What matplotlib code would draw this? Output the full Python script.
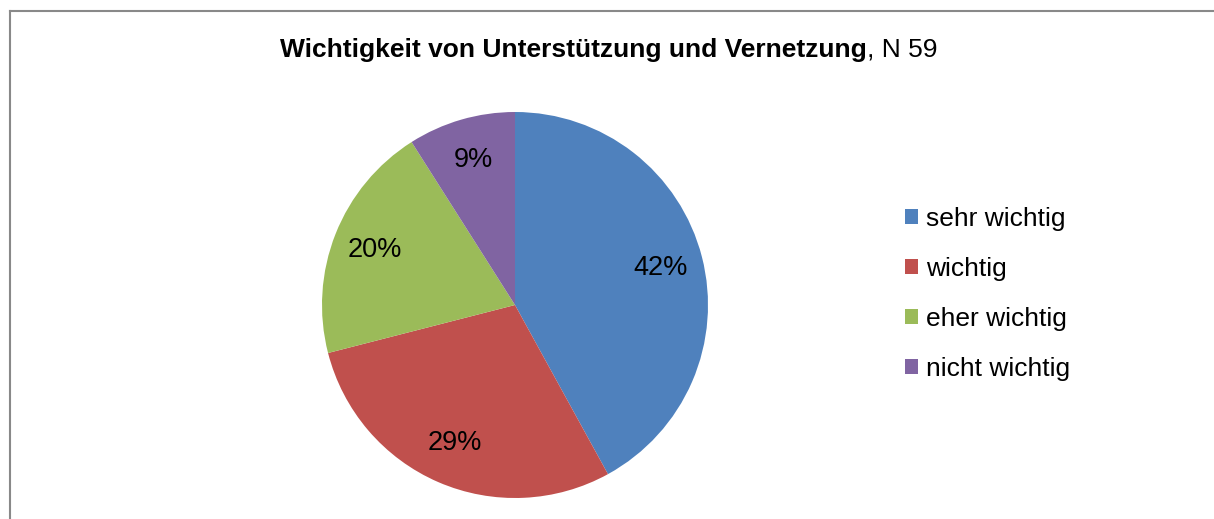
import matplotlib.pyplot as plt
from matplotlib.lines import Line2D

# Daten
labels = ['sehr wichtig', 'wichtig', 'eher wichtig', 'nicht wichtig']
values = [42, 29, 20, 9]
colors = ['#4F81BD', '#C0504D', '#9BBB59', '#8064A2']

plt.rcParams['font.family'] = ['Liberation Sans', 'DejaVu Sans']
fs = 19

fig = plt.figure(figsize=(12.14, 5.19), dpi=100)

# Rahmen (nur links und oben sichtbar)
W, H = 1214, 519
fig.add_artist(Line2D([10 / W, 10 / W], [0, 1 - 10.5 / H], color='#898989', lw=1.5))
fig.add_artist(Line2D([10 / W, 1], [1 - 10.5 / H, 1 - 10.5 / H], color='#898989', lw=1.5))

# Kreisdiagramm
ax = fig.add_axes([322 / W, 21 / H, 386 / W, 386 / H])
wedges, texts, autotexts = ax.pie(values, colors=colors, startangle=90, counterclock=False,
                                  autopct='%.0f%%', pctdistance=0.78, radius=1,
                                  textprops={'fontsize': 19.5, 'color': 'black'})
ax.set_xlim(-1, 1)
ax.set_ylim(-1, 1)
ax.set_aspect('equal')

# Legende
fig.legend(wedges, labels, loc='center left', bbox_to_anchor=(905 / W, 1 - 294 / H),
           bbox_transform=fig.transFigure, frameon=False, fontsize=fs,
           handlelength=0.5, handleheight=0.5, handletextpad=0.3,
           labelspacing=0.98, borderpad=0, borderaxespad=0)

# Titel: fett + normal
t1 = fig.text(280 / W, 1 - 57 / H, 'Wichtigkeit von Unterstützung und Vernetzung',
              fontsize=fs, fontweight='bold', va='baseline', ha='left')
fig.canvas.draw()
bb = t1.get_window_extent()
fig.text(bb.x1 / W, 1 - 57 / H, ', N 59', fontsize=fs, va='baseline', ha='left')

fig.savefig('out.png', dpi=100)
